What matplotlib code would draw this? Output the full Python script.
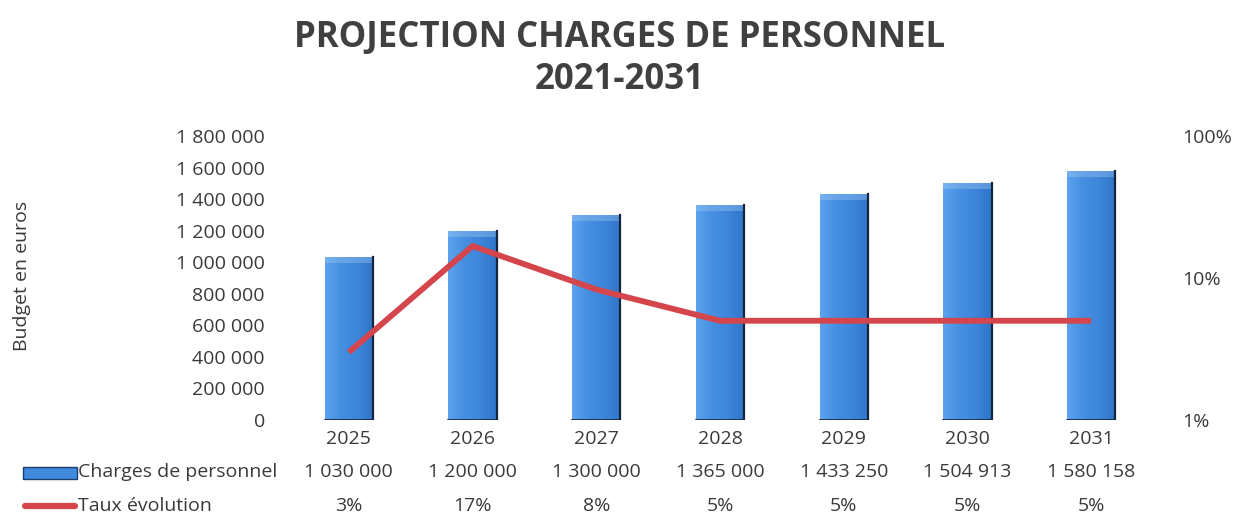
import matplotlib.pyplot as plt
import matplotlib.transforms as mtransforms
from matplotlib.patches import Rectangle
from matplotlib.colors import LinearSegmentedColormap
import numpy as np

years = ['2025', '2026', '2027', '2028', '2029', '2030', '2031']
charges = [1030000, 1200000, 1300000, 1365000, 1433250, 1504913, 1580158]
taux = [0.03, 0.168, 0.083, 0.05, 0.05, 0.05, 0.05]
y_ticks = [0, 200000, 400000, 600000, 800000, 1000000, 1200000, 1400000, 1600000, 1800000]
pct_ticks = [0.01, 0.1, 1.0]
pct_labels = ['1%', '10%', '100%']

TXT = '#3a3a3a'
BLUE = '#4089dc'
RED = '#d4464c'
FS = 14
plt.rcParams['font.family'] = ['Open Sans', 'DejaVu Sans']


def fmt_num(v):
    return '{:,}'.format(int(v)).replace(',', ' ')


W, H = 1239, 517
fig = plt.figure(figsize=(W / 100, H / 100), dpi=100)
ax = fig.add_axes([287 / W, 1 - 420 / H, 866 / W, 284 / H])

x = np.arange(len(years))
bars = ax.bar(x, charges, width=0.39, color=BLUE, linewidth=0, zorder=2)

# horizontal gradient inside each bar + dark right edge + soft light top bevel
grad = np.linspace(0, 1, 64).reshape(1, -1)
cmap = LinearSegmentedColormap.from_list('b', ['#5ca2ee', '#458ee0', '#3d86da', '#3074c8'])
bevel = 1800000 * 6 / 284
for b in bars:
    bx, by, bw, bh = b.get_x(), b.get_y(), b.get_width(), b.get_height()
    im = ax.imshow(grad, cmap=cmap, extent=[bx, bx + bw, by, by + bh], aspect='auto', zorder=2.5)
    im.set_clip_path(b)
    ax.add_patch(Rectangle((bx, by + bh - bevel), bw, bevel, facecolor='#a9cff5', alpha=0.35,
                           linewidth=0, zorder=2.6))
    ax.plot([bx + bw, bx + bw], [by, by + bh], color='#15253d', linewidth=1.6, zorder=2.7)
    ax.plot([bx, bx + bw], [by, by], color='#15253d', linewidth=1.2, zorder=2.7)

ax.set_xlim(-0.5, 6.5)
ax.set_ylim(0, 1800000)
ax.set_yticks(y_ticks)
ax.set_yticklabels([fmt_num(v) for v in y_ticks])
ax.set_xticks(x)
ax.set_xticklabels(years)
ax.tick_params(axis='both', length=0, labelsize=FS, colors=TXT)
ax.tick_params(axis='x', pad=7)
ax.tick_params(axis='y', pad=16)
for s in ax.spines.values():
    s.set_visible(False)

ax2 = ax.twinx()
ax2.set_yscale('log')
ax2.set_ylim(0.01, 1.0)
ax2.set_yticks(pct_ticks)
ax2.set_yticklabels(pct_labels)
ax2.yaxis.set_minor_locator(plt.NullLocator())
ax2.tick_params(axis='y', length=0, labelsize=FS, colors=TXT, pad=21)
for s in ax2.spines.values():
    s.set_visible(False)
ax2.plot(x, taux, color=RED, linewidth=4.2, solid_capstyle='butt', solid_joinstyle='miter', zorder=3)

fig.text(22 / W, 1 - 276 / H, 'Budget en euros', rotation=90, ha='center', va='center',
         fontsize=FS, color=TXT)

# data table under the chart
trans = mtransforms.blended_transform_factory(ax.transData, fig.transFigure)
for i in range(len(years)):
    ax.text(x[i], 1 - 472 / H, fmt_num(charges[i]), transform=trans, ha='center', va='center',
            fontsize=FS, color=TXT)
    ax.text(x[i], 1 - 506 / H, '{:.0f}%'.format(taux[i] * 100), transform=trans, ha='center',
            va='center', fontsize=FS, color=TXT)

fig.text(78 / W, 1 - 472 / H, 'Charges de personnel', ha='left', va='center', fontsize=FS, color=TXT)
fig.text(78 / W, 1 - 506 / H, 'Taux évolution', ha='left', va='center', fontsize=FS, color=TXT)
fig.patches.append(Rectangle((23 / W, 1 - 479 / H), 54 / W, 12 / H, transform=fig.transFigure,
                             facecolor=BLUE, edgecolor='#1d3f70', linewidth=1.0))
fig.lines.append(plt.Line2D([25 / W, 75 / W], [1 - 506 / H, 1 - 506 / H], transform=fig.transFigure,
                            color=RED, linewidth=4.5, solid_capstyle='round'))

fig.text(0.5, 1 - 38 / H, 'PROJECTION CHARGES DE PERSONNEL', ha='center', va='center',
         fontsize=25, fontweight='bold', color='#404040')
fig.text(0.5, 1 - 80 / H, '2021-2031', ha='center', va='center',
         fontsize=25, fontweight='bold', color='#404040')

fig.savefig('out.png', dpi=100)
